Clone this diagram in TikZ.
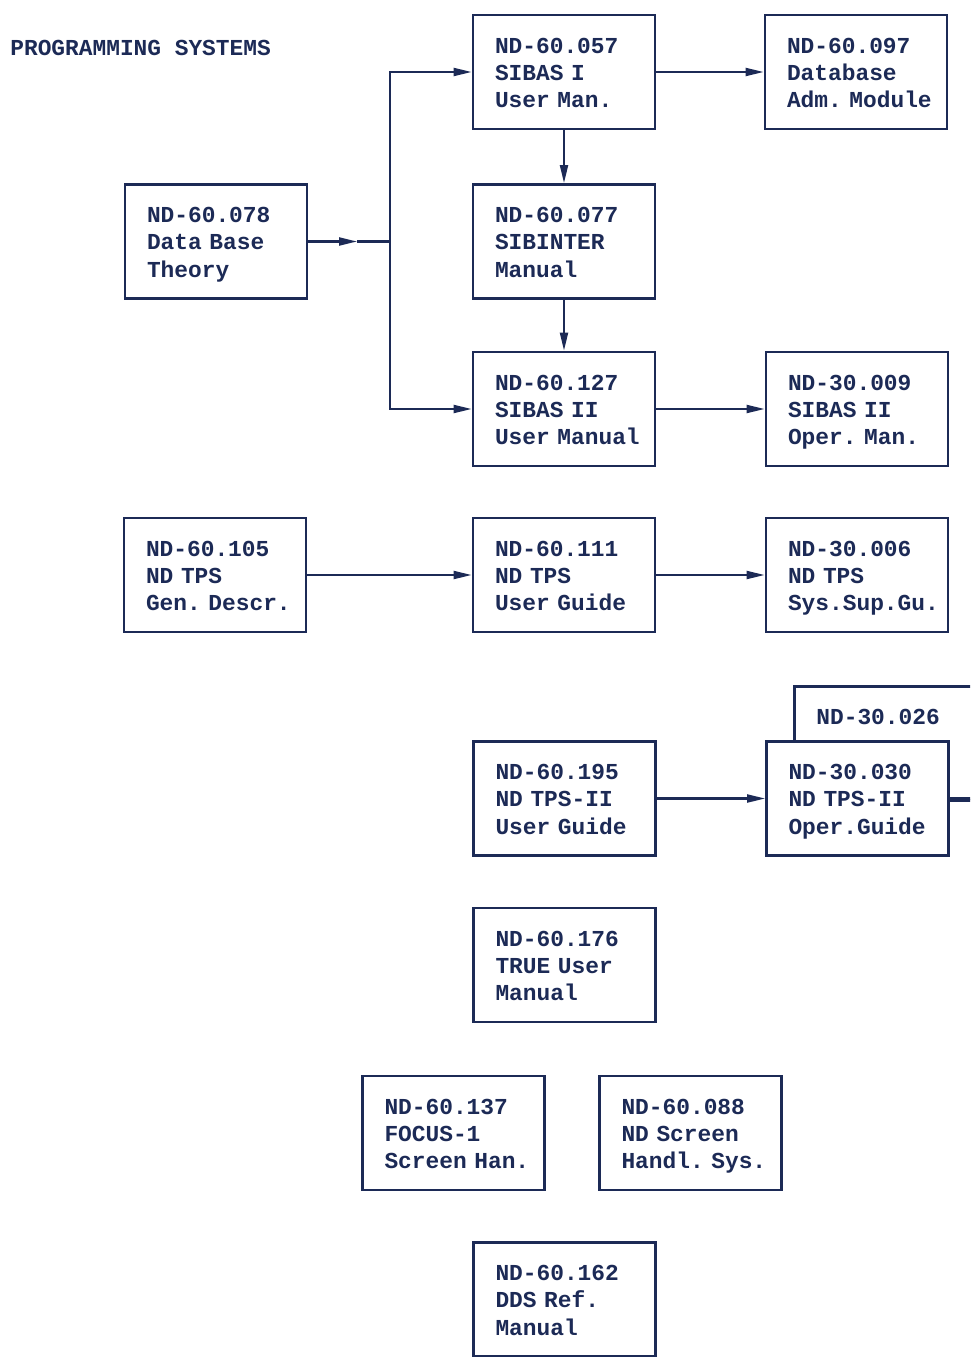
\documentclass[tikz,border=0pt]{standalone}
\usepackage{fontspec}
\usepackage{tikz}
\usetikzlibrary{arrows.meta}
\newfontfamily\docfont{Liberation Mono}
\definecolor{ink}{RGB}{28,42,86}

\begin{document}
\begin{tikzpicture}[color=ink,text=ink,
  doc/.style={draw,rectangle,fill=white,line width=1.6pt,minimum height=2.28cm,text width=2.76cm,inner xsep=0.44cm,align=left,
    execute at begin node={\hyphenpenalty=10000\exhyphenpenalty=10000\rule{0pt}{14.3pt}},execute at end node=\strut,
    font=\docfont\bfseries\fontsize{13}{15.6}\selectfont},
  flow/.style={line width=1.2pt,-{Triangle[length=3.6mm,width=1.6mm]}},
  link/.style={line width=1.2pt}]
\useasboundingbox (0,0) rectangle (19.4,-27.14);
\clip (0,0) rectangle (19.4,-27.14);

\node [anchor=west,inner sep=0,font=\docfont\bfseries\fontsize{13}{15.6}\selectfont] (title) at(0.2,-0.96){PROGRAMMING SYSTEMS};

\node [doc] (d078) at(4.32,-4.83){ND-60.078\\Data~Base\\Theory};
\node [doc] (d057) at(11.28,-1.44){ND-60.057\\SIBAS~I\\User~Man.};
\node [doc] (d097) at(17.12,-1.44){ND-60.097\\Database\\Adm.~Module};
\node [doc] (d077) at(11.28,-4.83){ND-60.077\\SIBINTER\\Manual};
\node [doc] (d127) at(11.28,-8.18){ND-60.127\\SIBAS~II\\User~Manual};
\node [doc] (d009) at(17.14,-8.18){ND-30.009\\SIBAS~II\\Oper.~Man.};

\node [doc] (d105) at(4.30,-11.5){ND-60.105\\ND~TPS\\Gen.~Descr.};
\node [doc] (d111) at(11.28,-11.5){ND-60.111\\ND~TPS\\User~Guide};
\node [doc] (d006) at(17.14,-11.5){ND-30.006\\ND~TPS\\Sys.Sup.Gu.};

\node [doc,anchor=north west,text width=3.12cm] (d026) at(15.86,-13.7){ND-30.026\\\strut\\};
\node [doc] (d195) at(11.29,-15.97){ND-60.195\\ND~TPS-II\\User~Guide};
\node [doc] (d030) at(17.15,-15.97){ND-30.030\\ND~TPS-II\\Oper.Guide};

\node [doc] (d176) at(11.29,-19.3){ND-60.176\\TRUE~User\\Manual};
\node [doc] (d137) at(9.07,-22.66){ND-60.137\\FOCUS-1\\Screen~Han.};
\node [doc] (d088) at(13.81,-22.66){ND-60.088\\ND~Screen\\Handl.~Sys.};
\node [doc] (d162) at(11.29,-25.99){ND-60.162\\DDS~Ref.\\Manual};

\coordinate (jn) at(7.8,-4.83);
\coordinate (jmid) at(7.14,-4.83);
\coordinate (offr) at(19.6,-15.97);

\draw[flow](d078) -- (jmid);
\draw[link](jmid) -- (jn);
\draw[flow](jn) |- (d057);
\draw[flow](jn) |- (d127);
\draw[flow](d057) -- (d097);
\draw[flow](d057) -- (d077);
\draw[flow](d077) -- (d127);
\draw[flow](d127) -- (d009);
\draw[flow](d105) -- (d111);
\draw[flow](d111) -- (d006);
\draw[flow](d195) -- (d030);
\draw[link](d030) -- (offr);
\end{tikzpicture}
\end{document}
